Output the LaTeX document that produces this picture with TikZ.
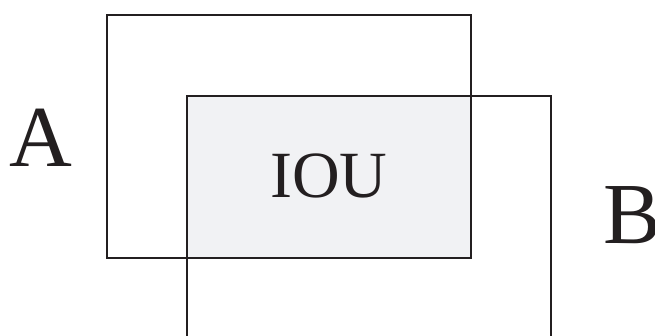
\documentclass[tikz,border=0pt]{standalone}
\usepackage{fontspec}
\setmainfont{Liberation Serif}
\definecolor{overlapfill}{HTML}{F1F2F4}
\definecolor{edge}{HTML}{231F20}
\begin{document}
\begin{tikzpicture}[x=1pt,y=-1pt,
  boxline/.style={draw=edge,line width=1.3pt},
  biglabel/.style={font=\fontsize{87}{87}\selectfont,text=edge,inner sep=0pt,anchor=base west},
  midlabel/.style={font=\fontsize{66}{66}\selectfont,text=edge,inner sep=0pt,anchor=base}]
  \useasboundingbox (0,0) rectangle (655,335);
  % box A corners
  \coordinate (a1) at (107,15);
  \coordinate (a2) at (471,258);
  % box B (open at the bottom)
  \coordinate (b1) at (187,96);
  \coordinate (b2) at (551,335);
  % shaded overlap
  \fill[overlapfill] (187,96) rectangle (471,258);
  \draw[boxline] (a1) rectangle (a2);
  \draw[boxline] (187,336) -- (b1) -- (551,96) -- (551,336);
  \node[biglabel] (la) at (9,166) {A};
  \node[biglabel] (lb) at (603,243) {B};
  \node[midlabel] (iou) at (329,197) {IOU};
\end{tikzpicture}
\end{document}
